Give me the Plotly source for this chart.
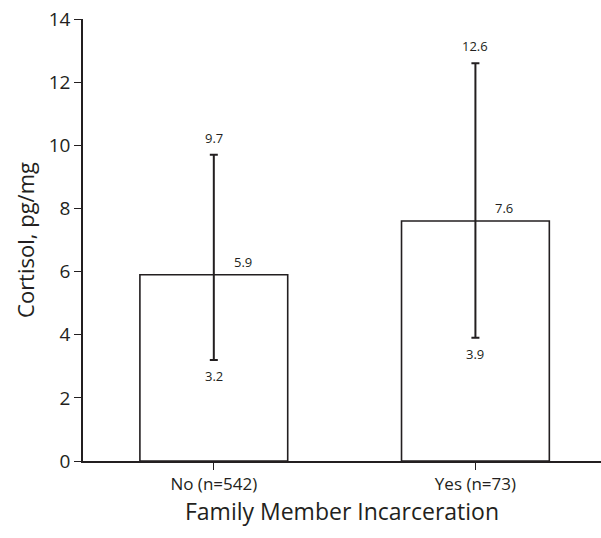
import plotly.graph_objects as go

categories = ["No (n=542)", "Yes (n=73)"]
means = [5.9, 7.6]
lows = [3.2, 3.9]
highs = [9.7, 12.6]
y_ticks = [0, 2, 4, 6, 8, 10, 12, 14]

INK = "#231f20"
FONT = "Open Sans, Lato, sans-serif"

xpos = list(range(len(categories)))

fig = go.Figure()
fig.add_trace(go.Bar(
    x=xpos, y=means, width=0.565,
    marker=dict(color="white", line=dict(color=INK, width=1.6)),
    error_y=dict(type="data", symmetric=False,
                 array=[h - m for h, m in zip(highs, means)],
                 arrayminus=[m - l for m, l in zip(means, lows)],
                 color=INK, thickness=2, width=4),
    hoverinfo="skip",
))

anns = []
LBL = dict(size=13, color=INK, family=FONT)
for i, (m, lo, hi) in enumerate(zip(means, lows, highs)):
    anns.append(dict(x=i, y=m, text=f"{m}", showarrow=False, xshift=29, yshift=13, font=LBL))
    anns.append(dict(x=i, y=hi, text=f"{hi}", showarrow=False, yshift=17, font=LBL))
    anns.append(dict(x=i, y=lo, text=f"{lo}", showarrow=False, yshift=-16, font=LBL))

fig.update_layout(
    width=601, height=538,
    margin=dict(l=83, r=0, t=19, b=77),
    paper_bgcolor="white", plot_bgcolor="white",
    showlegend=False,
    annotations=anns,
    font=dict(family=FONT, color=INK),
    xaxis=dict(range=[-0.5, 1.48], tickmode="array", tickvals=xpos, ticktext=categories,
               showline=True, linecolor=INK, linewidth=1.6, ticks="outside", ticklen=7,
               tickwidth=1.4, tickcolor=INK, showgrid=False, zeroline=False,
               tickfont=dict(size=17, color=INK, family=FONT),
               title=dict(text="Family Member Incarceration", font=dict(size=23, color=INK, family=FONT),
                          standoff=10)),
    yaxis=dict(range=[0, 14], tickmode="array", tickvals=y_ticks,
               showline=True, linecolor=INK, linewidth=1.6, ticks="outside", ticklen=7,
               tickwidth=1.4, tickcolor=INK, showgrid=False, zeroline=False,
               tickfont=dict(size=19, color=INK, family=FONT),
               title=dict(text="Cortisol, pg/mg", font=dict(size=22, color=INK, family=FONT),
                          standoff=8)),
)

fig.write_html("out.html", config={"displayModeBar": False},
               post_script="document.body.style.margin='0';")
